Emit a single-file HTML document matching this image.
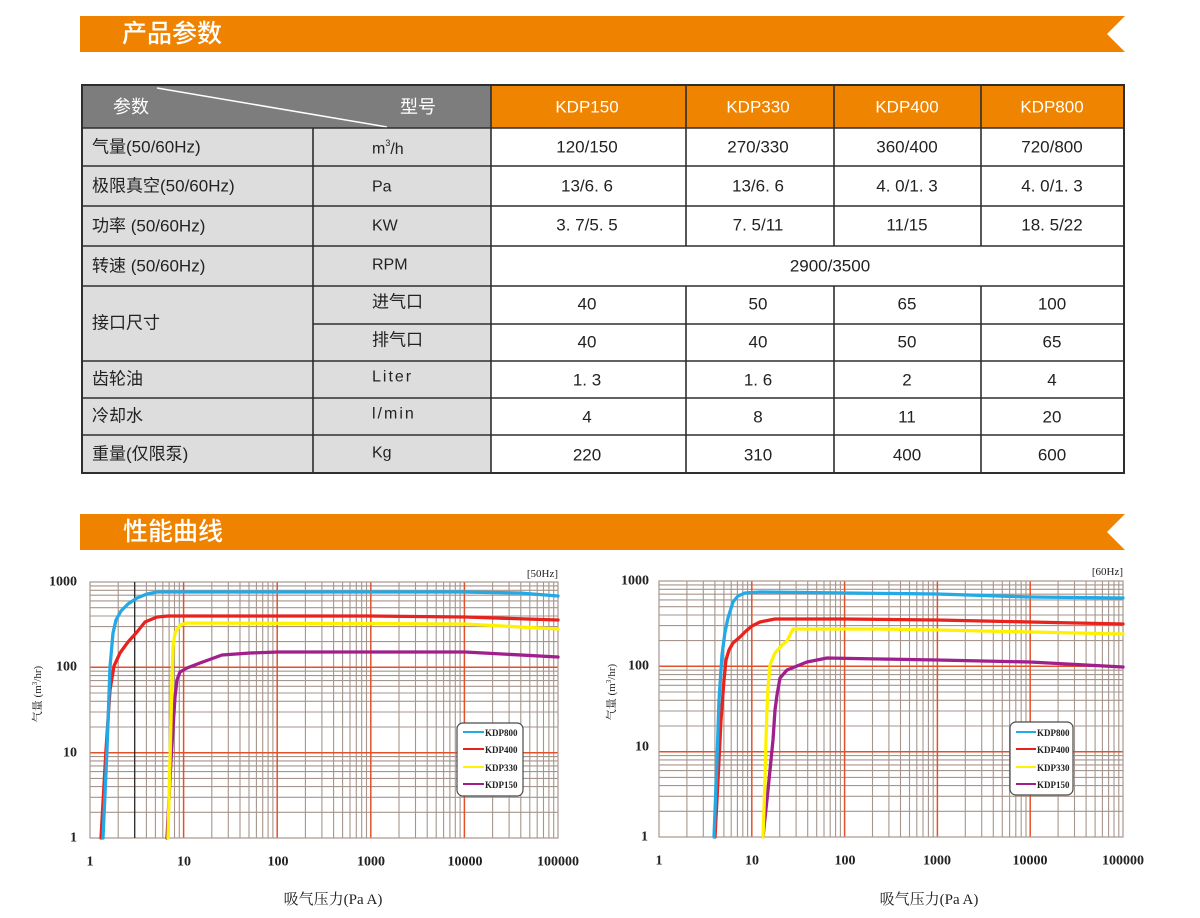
<!DOCTYPE html>
<html><head><meta charset="utf-8"><style>
html,body{margin:0;padding:0;background:#fff;width:1200px;height:918px;overflow:hidden}
svg{display:block}
.t{font-family:"Liberation Sans","Noto Sans CJK SC",sans-serif;fill:#222;dominant-baseline:central}
.s{font-family:"Liberation Serif","Noto Serif CJK SC",serif;fill:#222;dominant-baseline:central}
</style></head><body>
<svg width="1200" height="918" viewBox="0 0 1200 918" xmlns="http://www.w3.org/2000/svg">
<!-- Banner 1 -->
<polygon points="80,16 1125,16 1107,34 1125,52 80,52" fill="#ef8300"/>
<text x="122" y="34" class="t" style="fill:#fff;font-size:25px;font-weight:500">产品参数</text>

<!-- Table -->
<rect x="82" y="85" width="409" height="43" fill="#7d7d7d"/>
<rect x="491" y="85" width="633" height="43" fill="#ef8400"/>
<rect x="82" y="128" width="409" height="345" fill="#dddddd"/>
<rect x="491" y="128" width="633" height="345" fill="#ffffff"/>
<line x1="157" y1="88" x2="387" y2="127" stroke="#fff" stroke-width="1.5"/>
<g stroke="#2e2e2e" stroke-width="1.6" fill="none">
<rect x="82" y="85" width="1042" height="388" stroke-width="2"/>
<path d="M82 128H1124M82 166H1124M82 206H1124M82 246H1124M82 286H1124M313 324H1124M82 361H1124M82 398H1124M82 435H1124"/>
<path d="M313 128V473M491 85V473M686 85V246M834 85V246M981 85V246M686 286V473M834 286V473M981 286V473"/>
</g>
<text x="113" y="107" class="t" style="fill:#fff;font-size:18px">参数</text>
<text x="400" y="107" class="t" style="fill:#fff;font-size:18px">型号</text>
<g class="t" style="fill:#fff;font-size:17px" text-anchor="middle">
<text x="587" y="107" class="t" style="fill:#fff">KDP150</text>
<text x="758" y="107" class="t" style="fill:#fff">KDP330</text>
<text x="907" y="107" class="t" style="fill:#fff">KDP400</text>
<text x="1052" y="107" class="t" style="fill:#fff">KDP800</text>
</g>
<g style="font-size:17px">
<text x="92" y="147" class="t">气量(50/60Hz)</text>
<text x="92" y="186" class="t">极限真空(50/60Hz)</text>
<text x="92" y="226" class="t">功率 (50/60Hz)</text>
<text x="92" y="266" class="t">转速 (50/60Hz)</text>
<text x="92" y="323" class="t">接口尺寸</text>
<text x="92" y="379" class="t">齿轮油</text>
<text x="92" y="416" class="t">冷却水</text>
<text x="92" y="454" class="t">重量(仅限泵)</text>
</g>
<g style="font-size:16px">
<text x="372" y="149" class="t">m<tspan dy="-6" font-size="9">3</tspan><tspan dy="6">/h</tspan></text>
<text x="372" y="187" class="t">Pa</text>
<text x="372" y="226" class="t">KW</text>
<text x="372" y="265" class="t">RPM</text>
<text x="372" y="302" class="t" style="font-size:17px">进气口</text>
<text x="372" y="340" class="t" style="font-size:17px">排气口</text>
<text x="372" y="377" class="t" style="letter-spacing:2px">Liter</text>
<text x="372" y="414" class="t" style="letter-spacing:2px">l/min</text>
<text x="372" y="453" class="t">Kg</text>
</g>
<g style="font-size:17px" text-anchor="middle">
<text x="587" y="147" class="t">120/150</text><text x="758" y="147" class="t">270/330</text><text x="907" y="147" class="t">360/400</text><text x="1052" y="147" class="t">720/800</text>
<text x="587" y="186" class="t">13/6. 6</text><text x="758" y="186" class="t">13/6. 6</text><text x="907" y="186" class="t">4. 0/1. 3</text><text x="1052" y="186" class="t">4. 0/1. 3</text>
<text x="587" y="225" class="t">3. 7/5. 5</text><text x="758" y="225" class="t">7. 5/11</text><text x="907" y="225" class="t">11/15</text><text x="1052" y="225" class="t">18. 5/22</text>
<text x="830" y="266" class="t">2900/3500</text>
<text x="587" y="304" class="t">40</text><text x="758" y="304" class="t">50</text><text x="907" y="304" class="t">65</text><text x="1052" y="304" class="t">100</text>
<text x="587" y="342" class="t">40</text><text x="758" y="342" class="t">40</text><text x="907" y="342" class="t">50</text><text x="1052" y="342" class="t">65</text>
<text x="587" y="380" class="t">1. 3</text><text x="758" y="380" class="t">1. 6</text><text x="907" y="380" class="t">2</text><text x="1052" y="380" class="t">4</text>
<text x="587" y="417" class="t">4</text><text x="758" y="417" class="t">8</text><text x="907" y="417" class="t">11</text><text x="1052" y="417" class="t">20</text>
<text x="587" y="455" class="t">220</text><text x="758" y="455" class="t">310</text><text x="907" y="455" class="t">400</text><text x="1052" y="455" class="t">600</text>
</g>

<!-- Banner 2 -->
<polygon points="80,514 1125,514 1107,532 1125,550 80,550" fill="#ef8300"/>
<text x="123" y="532" class="t" style="fill:#fff;font-size:25px;font-weight:500">性能曲线</text>

<!-- LEFT CHART -->
<rect x="90" y="582" width="468" height="256" fill="#fff"/>
<path fill="none" stroke="#a6958c" stroke-width="1.1" d="M118.2 582V838M134.7 582V838M146.4 582V838M155.4 582V838M162.8 582V838M169.1 582V838M174.5 582V838M179.3 582V838
M211.8 582V838M228.3 582V838M240 582V838M249 582V838M256.4 582V838M262.7 582V838M268.1 582V838M272.9 582V838
M305.4 582V838M321.9 582V838M333.6 582V838M342.6 582V838M350 582V838M356.3 582V838M361.7 582V838M366.5 582V838
M399 582V838M415.5 582V838M427.2 582V838M436.2 582V838M443.6 582V838M449.9 582V838M455.3 582V838M460.1 582V838
M492.6 582V838M509.1 582V838M520.8 582V838M529.8 582V838M537.2 582V838M543.5 582V838M548.9 582V838M553.7 582V838
M90 585.9H558M90 590.3H558M90 595.2H558M90 600.9H558M90 607.7H558M90 616H558M90 626.6H558M90 641.6H558
M90 671.2H558M90 675.6H558M90 680.6H558M90 686.3H558M90 693H558M90 701.3H558M90 712H558M90 727H558
M90 756.6H558M90 760.9H558M90 765.9H558M90 771.6H558M90 778.4H558M90 786.6H558M90 797.3H558M90 812.3H558"/>
<path fill="none" stroke="#e2522a" stroke-width="1.5" d="M183.6 582V838M277.2 582V838M370.8 582V838M464.4 582V838M90 667.3H558M90 752.7H558"/>
<rect x="90" y="582" width="468" height="256" fill="none" stroke="#a8968e" stroke-width="1.2"/>
<line x1="134.7" y1="582" x2="134.7" y2="838" stroke="#222" stroke-width="1.2"/>
<g fill="none" stroke-width="3.3" stroke-linejoin="round" stroke-linecap="round">
<polyline stroke="#a11f8d" points="167,838 171,760 175,697 177,680 180,672 187,668 200,663 222,655 250,653 278,652 465,652 558,657"/>
<polyline stroke="#fff200" points="168,838 170,760 172,680 173,647 175,633 180,625 187,623 465,624 558,629"/>
<polyline stroke="#e8231e" points="101,838 106,750 110,690 114,666 120,653 128,642 137,632 145,622 157,617 168,616 370,616 465,617 558,620"/>
<polyline stroke="#22a9e6" points="103,838 107,750 110,667 113,633 116,620 121,611 128,604 137,598 147,594 157,592 460,592 520,593 558,596"/>
</g>
<!-- left legend -->
<rect x="457" y="723" width="66" height="73" rx="6" fill="#fff" stroke="#4a4a4a" stroke-width="1.2"/>
<g stroke-width="2">
<line x1="463" y1="732" x2="484" y2="732" stroke="#22a9e6"/>
<line x1="463" y1="749" x2="484" y2="749" stroke="#e8231e"/>
<line x1="463" y1="767" x2="484" y2="767" stroke="#fff200"/>
<line x1="463" y1="784" x2="484" y2="784" stroke="#a11f8d"/>
</g>
<g style="font-size:9px;font-weight:bold">
<text x="485" y="733" class="s">KDP800</text><text x="485" y="750" class="s">KDP400</text><text x="485" y="768" class="s">KDP330</text><text x="485" y="785" class="s">KDP150</text>
</g>
<g style="font-size:14px;font-weight:bold" text-anchor="end">
<text x="77" y="582" class="s">1000</text><text x="77" y="667" class="s">100</text><text x="77" y="753" class="s">10</text><text x="77" y="838" class="s">1</text>
</g>
<g style="font-size:14px;font-weight:bold" text-anchor="middle">
<text x="90" y="862" class="s">1</text><text x="184" y="862" class="s">10</text><text x="278" y="862" class="s">100</text><text x="371" y="862" class="s">1000</text><text x="465" y="862" class="s">10000</text><text x="558" y="862" class="s">100000</text>
</g>
<text x="558" y="574" class="s" text-anchor="end" style="font-size:11px">[50Hz]</text>
<text x="333" y="900" class="s" text-anchor="middle" style="font-size:15px">吸气压力(Pa A)</text>
<text transform="translate(38,694) rotate(-90)" class="s" text-anchor="middle" style="font-size:11px">气量 (m<tspan dy="-3" font-size="7">3</tspan><tspan dy="3">/hr)</tspan></text>

<!-- RIGHT CHART -->
<rect x="659" y="581" width="464" height="256" fill="#fff"/>
<path fill="none" stroke="#a6958c" stroke-width="1.1" d="M686.9 581V837M703.3 581V837M714.9 581V837M723.9 581V837M731.2 581V837M737.4 581V837M742.8 581V837M747.6 581V837
M779.7 581V837M796.1 581V837M807.7 581V837M816.7 581V837M824 581V837M830.2 581V837M835.6 581V837M840.4 581V837
M872.5 581V837M888.9 581V837M900.5 581V837M909.5 581V837M916.8 581V837M923 581V837M928.4 581V837M933.2 581V837
M965.3 581V837M981.7 581V837M993.3 581V837M1002.3 581V837M1009.6 581V837M1015.8 581V837M1021.2 581V837M1026 581V837
M1058.1 581V837M1074.5 581V837M1086.1 581V837M1095.1 581V837M1102.4 581V837M1108.6 581V837M1114 581V837M1118.8 581V837
M659 584.9H1123M659 589.3H1123M659 594.2H1123M659 599.9H1123M659 606.7H1123M659 615H1123M659 625.6H1123M659 640.6H1123
M659 670.2H1123M659 674.6H1123M659 679.6H1123M659 685.3H1123M659 692H1123M659 700.3H1123M659 711H1123M659 726H1123
M659 755.6H1123M659 759.9H1123M659 764.9H1123M659 770.6H1123M659 777.4H1123M659 785.6H1123M659 796.3H1123M659 811.3H1123"/>
<path fill="none" stroke="#e2522a" stroke-width="1.5" d="M751.8 581V837M844.6 581V837M937.4 581V837M1030.2 581V837M659 666.3H1123M659 751.7H1123"/>
<rect x="659" y="581" width="464" height="256" fill="none" stroke="#a8968e" stroke-width="1.2"/>
<g fill="none" stroke-width="3.3" stroke-linejoin="round" stroke-linecap="round">
<polyline stroke="#a11f8d" points="763,837 768,790 773,740 775,710 777,695 780,678 787,670 797,666 807,662 827,658 880,659 937,660 1030,662 1123,667"/>
<polyline stroke="#fff200" points="763,837 765,780 766,740 767,710 768,688 770,665 775,653 782,645 787,641 793,629 880,629 937,630 1030,632 1123,634"/>
<polyline stroke="#e8231e" points="715,837 718,780 721,720 724,680 726,660 729,650 733,643 740,637 746,631 752,626 760,622 775,619 845,619 937,620 1030,622 1123,624"/>
<polyline stroke="#22a9e6" points="714,837 717,760 719,700 722,655 725,632 728,618 733,602 738,596 745,593 760,592 937,594 1030,597 1123,598"/>
</g>
<!-- right legend -->
<rect x="1010" y="722" width="63" height="73" rx="6" fill="#fff" stroke="#4a4a4a" stroke-width="1.2"/>
<g stroke-width="2">
<line x1="1016" y1="732" x2="1036" y2="732" stroke="#22a9e6"/>
<line x1="1016" y1="749" x2="1036" y2="749" stroke="#e8231e"/>
<line x1="1016" y1="767" x2="1036" y2="767" stroke="#fff200"/>
<line x1="1016" y1="784" x2="1036" y2="784" stroke="#a11f8d"/>
</g>
<g style="font-size:9px;font-weight:bold">
<text x="1037" y="733" class="s">KDP800</text><text x="1037" y="750" class="s">KDP400</text><text x="1037" y="768" class="s">KDP330</text><text x="1037" y="785" class="s">KDP150</text>
</g>
<g style="font-size:14px;font-weight:bold" text-anchor="end">
<text x="649" y="581" class="s">1000</text><text x="649" y="666" class="s">100</text><text x="649" y="747" class="s">10</text><text x="648" y="837" class="s">1</text>
</g>
<g style="font-size:14px;font-weight:bold" text-anchor="middle">
<text x="659" y="861" class="s">1</text><text x="752" y="861" class="s">10</text><text x="845" y="861" class="s">100</text><text x="937" y="861" class="s">1000</text><text x="1030" y="861" class="s">10000</text><text x="1123" y="861" class="s">100000</text>
</g>
<text x="1123" y="572" class="s" text-anchor="end" style="font-size:11px">[60Hz]</text>
<text x="929" y="900" class="s" text-anchor="middle" style="font-size:15px">吸气压力(Pa A)</text>
<text transform="translate(612,692) rotate(-90)" class="s" text-anchor="middle" style="font-size:11px">气量 (m<tspan dy="-3" font-size="7">3</tspan><tspan dy="3">/hr)</tspan></text>
</svg>
</body></html>
